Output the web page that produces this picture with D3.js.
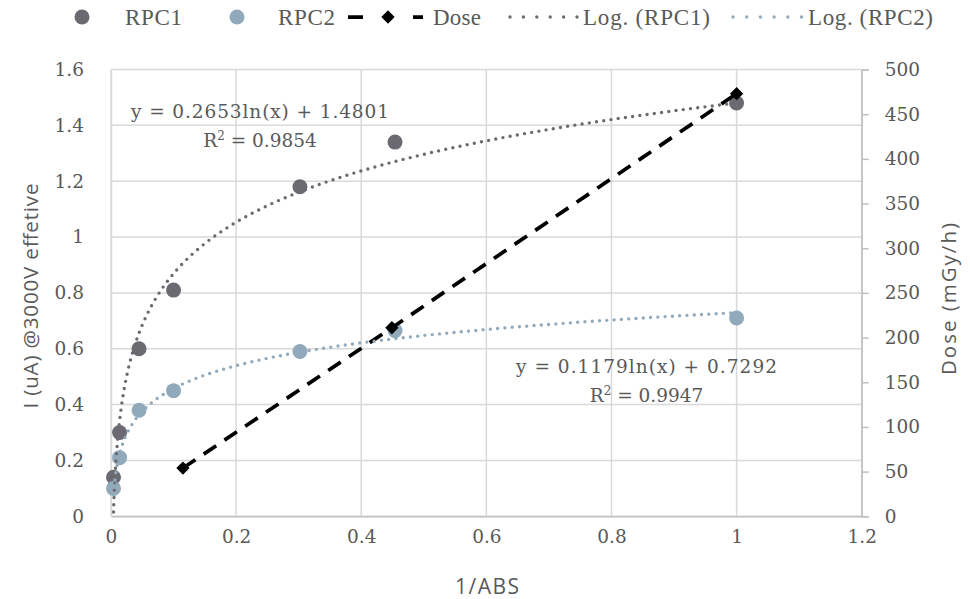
<!DOCTYPE html>
<html>
<head>
<meta charset="utf-8">
<script src="https://cdn.jsdelivr.net/npm/d3@7"></script>
<style>
  html, body { margin: 0; padding: 0; background: #fff; }
  svg { display: block; }
</style>
</head>
<body>
<script>
// Photocurrent of two RPC chambers against 1/ABS, with dose rate on a second axis
const absInv   = [0.004, 0.0137, 0.0448, 0.10, 0.302, 0.454, 1.0];
const rpc1     = [0.14, 0.30, 0.60, 0.81, 1.18, 1.34, 1.48];
const rpc2     = [0.10, 0.21, 0.38, 0.45, 0.59, 0.665, 0.71];
const doseX    = [0.115, 0.449, 1.0];
const doseVal  = [54, 211, 473];
// logarithmic fits: y = a ln(x) + b
const fit1     = [0.2653, 1.4801, 0.9854];
const fit2     = [0.1179, 0.7292, 0.9947];
const xTicks   = [0, 0.2, 0.4, 0.6, 0.8, 1, 1.2];
const yTicks   = [0, 0.2, 0.4, 0.6, 0.8, 1, 1.2, 1.4, 1.6];
const y2Ticks  = [0, 50, 100, 150, 200, 250, 300, 350, 400, 450, 500];
const legendLabels = ["RPC1", "RPC2", "Dose", "Log. (RPC1)", "Log. (RPC2)"];

const W = 970, H = 599;
const C1 = "#6b6a72", C2 = "#91aabb", TXT = "#595959", GRID = "#d9d9d9";
const serif = "'DejaVu Serif', serif";
const lserif = "'Liberation Serif', serif";
const sans = "'Open Sans', sans-serif";

const svg = d3.select("body").append("svg").attr("width", W).attr("height", H);

const x  = d3.scaleLinear().domain([0, 1.2]).range([111, 861.7]);
const y  = d3.scaleLinear().domain([0, 1.6]).range([516.3, 69.5]);
const y2 = d3.scaleLinear().domain([0, 500]).range([516.3, 69.5]);

// gridlines
svg.append("g").selectAll("line").data(yTicks).join("line")
  .attr("x1", x(0)).attr("x2", x(1.2))
  .attr("y1", d => y(d)).attr("y2", d => y(d))
  .attr("stroke", GRID).attr("stroke-width", 1.5);
svg.append("g").selectAll("line").data(xTicks).join("line")
  .attr("x1", d => x(d)).attr("x2", d => x(d))
  .attr("y1", y(0)).attr("y2", y(1.6))
  .attr("stroke", GRID).attr("stroke-width", 1.5);

// bottom axis
const xAxis = svg.append("g").attr("transform", `translate(0,${y(0)})`)
  .call(d3.axisBottom(x).tickValues(xTicks).tickSize(0).tickPadding(14).tickFormat(d3.format("~g")));
xAxis.select(".domain").attr("stroke", "#bfbfbf").attr("stroke-width", 1.5);
xAxis.selectAll("text").attr("font-family", serif).attr("font-size", 18.5).attr("fill", TXT);

// left axis
const yAxis = svg.append("g").attr("transform", `translate(${x(0)},0)`)
  .call(d3.axisLeft(y).tickValues(yTicks).tickSize(0).tickPadding(27).tickFormat(d3.format("~g")));
yAxis.select(".domain").attr("stroke", GRID).attr("stroke-width", 1.5);
yAxis.selectAll("text").attr("font-family", serif).attr("font-size", 18.5).attr("fill", TXT);

// right axis (dose)
const y2Axis = svg.append("g").attr("transform", `translate(${x(1.2)},0)`)
  .call(d3.axisRight(y2).tickValues(y2Ticks).tickSize(7).tickPadding(16));
y2Axis.select(".domain").attr("stroke", "#bfbfbf").attr("stroke-width", 1.5);
y2Axis.selectAll(".tick line").attr("stroke", "#bfbfbf").attr("stroke-width", 1.5);
y2Axis.selectAll("text").attr("font-family", serif).attr("font-size", 18.5).attr("fill", TXT);

// axis titles
svg.append("text").attr("x", 487).attr("y", 594).attr("text-anchor", "middle")
  .attr("font-family", sans).attr("font-size", 21).attr("fill", TXT)
  .attr("textLength", 64).attr("lengthAdjust", "spacing").text("1/ABS");
svg.append("text").attr("transform", "translate(30,296) rotate(-90)")
  .attr("text-anchor", "middle").attr("dominant-baseline", "central")
  .attr("font-family", sans).attr("font-size", 20.5).attr("fill", TXT)
  .attr("textLength", 225).attr("lengthAdjust", "spacing").text("I (uA) @3000V effetive");
svg.append("text").attr("transform", "translate(948,299) rotate(-90)")
  .attr("text-anchor", "middle").attr("dominant-baseline", "central")
  .attr("font-family", sans).attr("font-size", 20.5).attr("fill", TXT)
  .attr("textLength", 152).attr("lengthAdjust", "spacing").text("Dose (mGy/h)");

// plot clip for trendlines
svg.append("clipPath").attr("id", "plotClip").append("rect")
  .attr("x", x(0)).attr("y", y(1.6)).attr("width", x(1.2) - x(0)).attr("height", y(0) - y(1.6));

const r = 7.5;
// RPC1 markers
svg.append("g").selectAll("circle").data(absInv.map((v, i) => [v, rpc1[i]])).join("circle")
  .attr("cx", d => x(d[0])).attr("cy", d => y(d[1])).attr("r", r).attr("fill", C1);
// RPC2 markers
svg.append("g").selectAll("circle").data(absInv.map((v, i) => [v, rpc2[i]])).join("circle")
  .attr("cx", d => x(d[0])).attr("cy", d => y(d[1])).attr("r", r).attr("fill", C2);

// dose series
const doseData = doseX.map((v, i) => [v, doseVal[i]]);
svg.append("path").datum(doseData)
  .attr("d", d3.line().x(d => x(d[0])).y(d => y2(d[1])))
  .attr("fill", "none").attr("stroke", "#000").attr("stroke-width", 3.75)
  .attr("stroke-dasharray", "15 10");
const diamond = d3.symbol().type(d3.symbolSquare).size(88);
svg.append("g").selectAll("path").data(doseData).join("path")
  .attr("d", diamond)
  .attr("transform", d => `translate(${x(d[0])},${y2(d[1])}) rotate(45)`)
  .attr("fill", "#000");

// logarithmic trendlines over the data range
const xmin = d3.min(absInv), xmax = d3.max(absInv);
const samples = d3.range(0, 201).map(i => xmin * Math.pow(xmax / xmin, i / 200));
function trend(fit, color) {
  svg.append("path").datum(samples.map(v => [v, fit[0] * Math.log(v) + fit[1]]))
    .attr("clip-path", "url(#plotClip)")
    .attr("d", d3.line().x(d => x(d[0])).y(d => y(d[1])))
    .attr("fill", "none").attr("stroke", color).attr("stroke-width", 3.4)
    .attr("stroke-linecap", "round").attr("stroke-dasharray", "0 7.3");
}
trend(fit1, C1);
trend(fit2, C2);

// fit equations
function eqLabel(fit, cx, y0, w1) {
  svg.append("text").attr("x", cx).attr("y", y0).attr("text-anchor", "middle")
    .attr("font-family", serif).attr("font-size", 18.5).attr("fill", TXT)
    .attr("textLength", w1).attr("lengthAdjust", "spacing")
    .text(`y = ${fit[0]}ln(x) + ${fit[1]}`);
  const t = svg.append("text").attr("x", cx).attr("y", y0 + 29).attr("text-anchor", "middle")
    .attr("font-family", serif).attr("font-size", 18.5).attr("fill", TXT);
  t.append("tspan").text("R");
  t.append("tspan").attr("dy", -7).attr("font-size", 12).text("2");
  t.append("tspan").attr("dy", 7).text(` = ${fit[2]}`);
}
eqLabel(fit1, 260, 118, 258);
eqLabel(fit2, 646.5, 373, 261);

// legend
const lg = svg.append("g");
const ly = 17, lbase = 25;
const lfont = { "font-family": lserif, "font-size": 23, "fill": TXT };
function ltext(xp, label, w) {
  const t = lg.append("text").attr("x", xp).attr("y", lbase)
    .attr("textLength", w).attr("lengthAdjust", "spacing").text(label);
  Object.entries(lfont).forEach(([k, v]) => t.attr(k, v));
}
lg.append("circle").attr("cx", 82).attr("cy", ly).attr("r", r).attr("fill", C1);
ltext(125, legendLabels[0], 57);
lg.append("circle").attr("cx", 237).attr("cy", ly).attr("r", r).attr("fill", C2);
ltext(278, legendLabels[1], 57);
lg.append("line").attr("x1", 348).attr("x2", 423).attr("y1", ly).attr("y2", ly)
  .attr("stroke", "#000").attr("stroke-width", 3.75).attr("stroke-dasharray", "15 50");
lg.append("path").attr("d", diamond).attr("transform", `translate(388,${ly}) rotate(45)`).attr("fill", "#000");
ltext(433, legendLabels[2], 48);
lg.append("line").attr("x1", 510).attr("x2", 577).attr("y1", ly).attr("y2", ly)
  .attr("stroke", C1).attr("stroke-width", 3.4).attr("stroke-linecap", "round").attr("stroke-dasharray", "0 13.4");
ltext(583, legendLabels[3], 127);
lg.append("line").attr("x1", 733).attr("x2", 802).attr("y1", ly).attr("y2", ly)
  .attr("stroke", C2).attr("stroke-width", 3.4).attr("stroke-linecap", "round").attr("stroke-dasharray", "0 13.7");
ltext(808, legendLabels[4], 125);
</script>
</body>
</html>
